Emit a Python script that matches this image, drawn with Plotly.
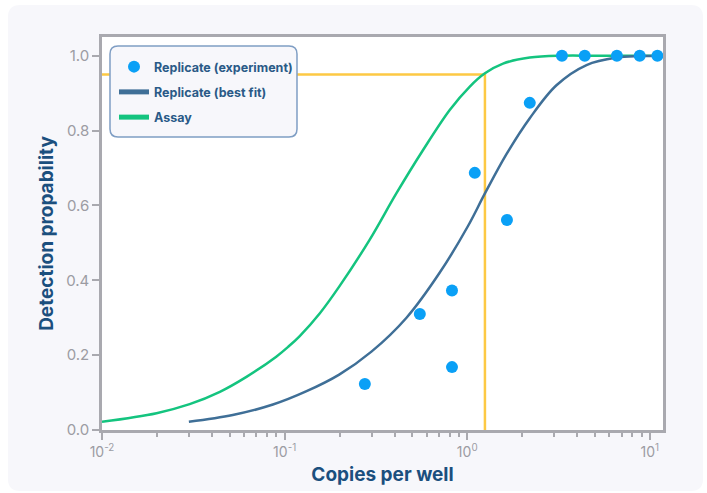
import plotly.graph_objects as go

# ---- data ----
exp_x = [0.275, 0.55, 0.825, 0.825, 1.1, 1.65, 2.2, 3.3, 4.4, 6.6, 8.8, 11.0]
exp_y = [0.123, 0.31, 0.373, 0.168, 0.687, 0.561, 0.874, 1.0, 1.0, 1.0, 1.0, 1.0]

fit_x = [0.0299, 0.052, 0.0863, 0.131, 0.199, 0.30, 0.465, 0.706, 1.01, 1.25, 1.64, 2.2, 3.08, 4.5, 6.57, 8.8, 11.8]
fit_y = [0.022, 0.040, 0.068, 0.103, 0.148, 0.210, 0.300, 0.420, 0.545, 0.632, 0.737, 0.833, 0.921, 0.975, 0.995, 0.999, 1.0]

assay_x = [0.01, 0.0199, 0.0302, 0.0442, 0.0618, 0.090, 0.105, 0.121, 0.156, 0.199, 0.292, 0.409, 0.573, 0.802, 1.03, 1.25, 1.57, 2.2, 3.3, 5.0, 11.8]
assay_y = [0.022, 0.045, 0.069, 0.102, 0.142, 0.196, 0.223, 0.251, 0.312, 0.383, 0.508, 0.632, 0.748, 0.855, 0.917, 0.953, 0.979, 0.995, 1.0, 1.0, 1.0]

lod_x = 1.25
lod_y = 0.95
x_min = 0.01

xtick_vals = [0.01, 0.1, 1, 10]
xtick_text = ["10<sup>-2</sup>", "10<sup>-1</sup>", "10<sup>0</sup>", "10<sup>1</sup>"]
ytick_vals = [0.0, 0.2, 0.4, 0.6, 0.8, 1.0]
ytick_text = ["0.0", "0.2", "0.4", "0.6", "0.8", "1.0"]

# ---- styles ----
W, H = 707, 493
ML, MR, MT, MB = 102, 44, 37, 63
PW, PH = W - ML - MR, H - MT - MB
GREEN = "#14c47f"
BLUE_LINE = "#3f6f97"
DOT = "#0aa0f6"
YELLOW = "#fdc944"
AXIS = "#a9a9af"
TICKTXT = "#9c9ca3"
TITLE = "#1b4f7e"
FONT = "Inter, Roboto, sans-serif"


def px2paper(px, py):
    return (px - ML) / PW, (H - MB - py) / PH


def rounded_rect(x0, y0, x1, y1, r):
    def P(px, py):
        a, b = px2paper(px, py)
        return f"{a:.5f},{b:.5f}"
    return (
        f"M {P(x0 + r, y0)} L {P(x1 - r, y0)} Q {P(x1, y0)} {P(x1, y0 + r)} "
        f"L {P(x1, y1 - r)} Q {P(x1, y1)} {P(x1 - r, y1)} "
        f"L {P(x0 + r, y1)} Q {P(x0, y1)} {P(x0, y1 - r)} "
        f"L {P(x0, y0 + r)} Q {P(x0, y0)} {P(x0 + r, y0)} Z"
    )


fig = go.Figure()

# LOD guide lines
fig.add_trace(go.Scatter(
    x=[x_min, lod_x, lod_x], y=[lod_y, lod_y, 0],
    mode="lines", line=dict(color=YELLOW, width=2.5),
    showlegend=False, hoverinfo="skip"))

fig.add_trace(go.Scatter(
    x=assay_x, y=assay_y, mode="lines",
    line=dict(color=GREEN, width=2.5, shape="spline", smoothing=1),
    showlegend=False))

fig.add_trace(go.Scatter(
    x=fit_x, y=fit_y, mode="lines",
    line=dict(color=BLUE_LINE, width=2.5, shape="spline", smoothing=1),
    showlegend=False))

fig.add_trace(go.Scatter(
    x=exp_x, y=exp_y, mode="markers",
    marker=dict(color=DOT, size=12, line=dict(width=0)),
    showlegend=False, cliponaxis=False))

# legend entries
fig.add_trace(go.Scatter(x=[None], y=[None], mode="markers",
                         marker=dict(color=DOT, size=12),
                         name="Replicate (experiment)", legendgroup="a"))
fig.add_trace(go.Scatter(x=[None], y=[None], mode="lines",
                         line=dict(color=BLUE_LINE, width=5),
                         name="Replicate (best fit)", legendgroup="b"))
fig.add_trace(go.Scatter(x=[None], y=[None], mode="lines",
                         line=dict(color=GREEN, width=5),
                         name="Assay", legendgroup="c"))

lx0, ly0 = px2paper(114, 52)

fig.update_layout(
    width=W, height=H,
    margin=dict(l=ML, r=MR, t=MT, b=MB),
    paper_bgcolor="white",
    plot_bgcolor="white",
    font=dict(family=FONT),
    showlegend=True,
    legend=dict(
        x=lx0, y=ly0, xanchor="left", yanchor="top",
        bgcolor="rgba(0,0,0,0)", borderwidth=0,
        font=dict(family=FONT, size=12.5, color="#2a5a87", weight="bold"),
        tracegroupgap=6, itemwidth=30,
    ),
    xaxis=dict(
        type="log", range=[-2, 1.072], automargin=False,
        tickvals=xtick_vals, ticktext=xtick_text,
        ticks="outside", ticklen=7, tickwidth=2, tickcolor=AXIS,
        minor=dict(ticks="outside", ticklen=4, tickwidth=1.5, tickcolor=AXIS, dtick="D1", showgrid=False),
        showline=True, linecolor=AXIS, linewidth=2.5, mirror=True,
        showgrid=False, zeroline=False,
        tickfont=dict(family=FONT, size=14, color=TICKTXT),
        title=dict(text="Copies per well", standoff=10,
                   font=dict(family=FONT, size=19, color=TITLE, weight="bold")),
    ),
    yaxis=dict(
        range=[0, 1.05], automargin=False,
        tickvals=ytick_vals, ticktext=ytick_text,
        ticks="outside", ticklen=7, tickwidth=2, tickcolor=AXIS,
        showline=True, linecolor=AXIS, linewidth=2.5, mirror=True,
        showgrid=False, zeroline=False,
        tickfont=dict(family=FONT, size=15, color=TICKTXT),
        title=dict(text="Detection propability", standoff=8,
                   font=dict(family=FONT, size=19, color=TITLE, weight="bold")),
    ),
    shapes=[
        dict(type="path", xref="paper", yref="paper",
             path=rounded_rect(8, 5, 703, 491, 12),
             fillcolor="#f7f7fb", line=dict(width=0), layer="below"),
        dict(type="rect", xref="paper", yref="paper", x0=0, x1=1, y0=0, y1=1,
             fillcolor="white", line=dict(width=0), layer="below"),
        dict(type="path", xref="paper", yref="paper",
             path=rounded_rect(110, 46, 297, 137, 8),
             fillcolor="#f7f7fb", line=dict(color="#7f9ec4", width=1.5), layer="above"),
    ],
)

fig.write_html("out.html", config={"displayModeBar": False},
               post_script="document.body.style.margin='0';")
